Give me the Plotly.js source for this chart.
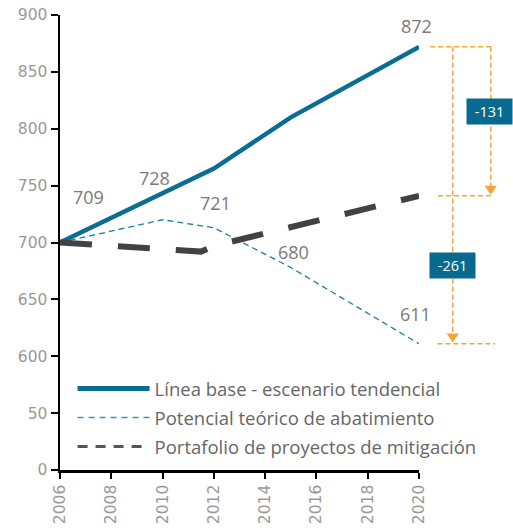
<!DOCTYPE html>
<html>
<head>
<meta charset="utf-8">
<script src="https://cdn.plot.ly/plotly-3.0.1.min.js"></script>
<style>
  html, body { margin: 0; padding: 0; background: #ffffff; }
  #chart { width: 513px; height: 531px; }
</style>
</head>
<body>
<div id="chart"></div>
<script>
// ---- Data ----
var baseYears = [2006, 2012, 2015, 2020];
var baseValues = [700, 765, 810, 872];

var potYears = [2006, 2010, 2012, 2015, 2020];
var potValues = [700, 720, 713, 678, 611];

var portYears = [2006, 2010, 2011.5, 2012, 2020];
var portValues = [700, 695, 692, 697, 741];

var seriesNames = [
  'Línea base - escenario tendencial',
  'Potencial teórico de abatimiento',
  'Portafolio de proyectos de mitigación'
];

var labelTexts = ['709', '728', '721', '680', '741', '872', '611'];
var labelX = [2007.1, 2009.7, 2012.05, 2015.1, 2020.1, 2019.9, 2019.85];
var labelY = [740, 757, 735, 692, 756, 890, 637.5];

var yTickVals = [500, 550, 600, 650, 700, 750, 800, 850, 900];
var yTickText = ['0', '50', '600', '650', '700', '750', '800', '850', '900'];
var xTickVals = [2006, 2008, 2010, 2012, 2014, 2016, 2018, 2020];

// ---- Derived ----
var baseEnd = baseValues[baseValues.length - 1];
var potEnd = potValues[potValues.length - 1];
var portEnd = portValues[portValues.length - 1];
var diffPort = portEnd - baseEnd;   // -131
var diffPot = potEnd - baseEnd;     // -261

var blue = '#0b6d93';
var orange = '#f7a53a';

var traces = [
  {
    x: baseYears, y: baseValues, name: seriesNames[0], type: 'scatter', mode: 'lines',
    line: { color: blue, width: 4.5 }, showlegend: false, hoverinfo: 'skip'
  },
  {
    x: potYears, y: potValues, name: seriesNames[1], type: 'scatter', mode: 'lines',
    line: { color: '#1f7ea3', width: 1.3, dash: '6px,4px' }, showlegend: false, hoverinfo: 'skip'
  },
  {
    x: portYears, y: portValues, name: seriesNames[2], type: 'scatter', mode: 'lines',
    line: { color: '#424242', width: 6, dash: '32px,26px' }, showlegend: false, hoverinfo: 'skip'
  },
  // legend entries
  { x: [null], y: [null], name: seriesNames[0], type: 'scatter', mode: 'lines', legendgroup: 'a',
    line: { color: blue, width: 5 } },
  { x: [null], y: [null], name: seriesNames[1], type: 'scatter', mode: 'lines', legendgroup: 'b',
    line: { color: '#3a93bb', width: 1.5, dash: '6px,5px' } },
  { x: [null], y: [null], name: seriesNames[2], type: 'scatter', mode: 'lines', legendgroup: 'c',
    line: { color: '#555555', width: 3, dash: '10px,8px' } }
];

// paper x positions beyond plot (plot spans 2006..2020)
var pxA = 1.031, pxB = 1.053, pxV1 = 1.094, pxV2 = 1.2, pxEnd = 1.212;
var dashLine = { color: orange, width: 1.5, dash: '5px,3px' };

var shapes = [
  { type: 'line', xref: 'paper', yref: 'y', x0: pxA, x1: pxV2, y0: baseEnd, y1: baseEnd, line: dashLine },
  { type: 'line', xref: 'paper', yref: 'y', x0: pxB, x1: pxV2, y0: portEnd, y1: portEnd, line: dashLine },
  { type: 'line', xref: 'paper', yref: 'y', x0: pxA + 0.02, x1: pxEnd, y0: potEnd, y1: potEnd, line: dashLine },
  { type: 'line', xref: 'paper', yref: 'y', x0: pxV1, x1: pxV1, y0: baseEnd, y1: potEnd + 7, line: dashLine },
  { type: 'line', xref: 'paper', yref: 'y', x0: pxV2, x1: pxV2, y0: baseEnd, y1: portEnd + 7, line: dashLine },
  { type: 'path', xref: 'paper', yref: 'y', fillcolor: orange, line: { width: 0 },
    path: 'M ' + (pxV1 - 0.017) + ',' + (potEnd + 9) + ' L ' + (pxV1 + 0.017) + ',' + (potEnd + 9) + ' L ' + pxV1 + ',' + (potEnd + 1) + ' Z' },
  { type: 'path', xref: 'paper', yref: 'y', fillcolor: orange, line: { width: 0 },
    path: 'M ' + (pxV2 - 0.017) + ',' + (portEnd + 9) + ' L ' + (pxV2 + 0.017) + ',' + (portEnd + 9) + ' L ' + pxV2 + ',' + (portEnd + 1) + ' Z' }
];

var annotations = [];
for (var i = 0; i < labelTexts.length; i++) {
  annotations.push({
    x: labelX[i], y: labelY[i], xref: 'x', yref: 'y', text: labelTexts[i], showarrow: false,
    font: { family: 'Open Sans, sans-serif', size: 18, color: '#7a7a7a' },
    xanchor: 'center', yanchor: 'middle'
  });
}
annotations.push({
  x: pxV2 - 0.003, y: (baseEnd + portEnd) / 2 + 9, xref: 'paper', yref: 'y', text: String(diffPort),
  showarrow: false, bgcolor: '#076a8e', borderpad: 3, width: 39,
  font: { family: 'Open Sans, sans-serif', size: 14.5, color: '#ffffff' },
  xanchor: 'center', yanchor: 'middle'
});
annotations.push({
  x: pxV1 - 0.002, y: (portEnd + potEnd) / 2 + 3.5, xref: 'paper', yref: 'y', text: String(diffPot),
  showarrow: false, bgcolor: '#076a8e', borderpad: 3, width: 39,
  font: { family: 'Open Sans, sans-serif', size: 14.5, color: '#ffffff' },
  xanchor: 'center', yanchor: 'middle'
});

var tickFont = { family: 'DejaVu Sans, sans-serif', size: 15.5, color: '#999999' };

var layout = {
  width: 513, height: 531,
  margin: { l: 60, r: 94, t: 15, b: 61 },
  paper_bgcolor: '#ffffff', plot_bgcolor: '#ffffff',
  showlegend: true,
  legend: {
    x: 0.035, y: 0.22, xanchor: 'left', yanchor: 'top',
    bgcolor: 'rgba(0,0,0,0)', itemwidth: 72,
    font: { family: 'Open Sans, sans-serif', size: 18.5, color: '#666666' },
    traceorder: 'grouped', tracegroupgap: 2
  },
  xaxis: {
    range: [2006, 2020], tickvals: xTickVals, ticktext: xTickVals.map(String),
    tickangle: -90, ticks: 'outside', ticklen: 6, tickwidth: 2, tickcolor: '#000',
    showline: true, linecolor: '#000', linewidth: 2.5, showgrid: false, zeroline: false,
    tickfont: tickFont
  },
  yaxis: {
    range: [500, 900], tickvals: yTickVals, ticktext: yTickText,
    ticks: 'outside', ticklen: 7, tickwidth: 2, tickcolor: '#000',
    showline: true, linecolor: '#000', linewidth: 2.5, showgrid: false, zeroline: false,
    tickfont: tickFont
  },
  shapes: shapes,
  annotations: annotations
};

Plotly.newPlot('chart', traces, layout, { displayModeBar: false, staticPlot: true });
</script>
</body>
</html>
